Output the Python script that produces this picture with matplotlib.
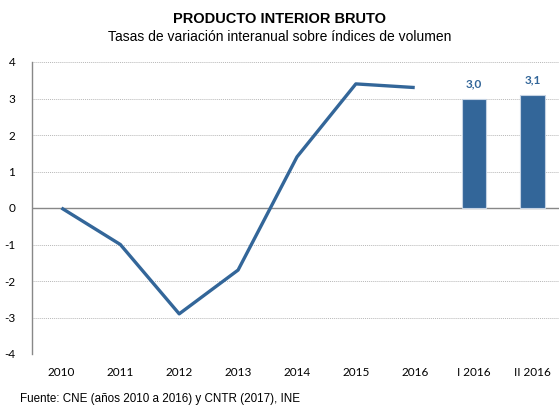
import matplotlib.pyplot as plt

plt.rcParams["axes.unicode_minus"] = False

categories = ["2010", "2011", "2012", "2013", "2014", "2015", "2016", "I 2016", "II 2016"]
annual_values = [0.0, -1.0, -2.9, -1.7, 1.4, 3.4, 3.3]
quarter_values = [3.0, 3.1]
quarter_labels = ["3,0", "3,1"]

blue = "#336699"
tick_font = "Lato"

fig = plt.figure(figsize=(5.59, 4.08), dpi=100)
ax = fig.add_axes([32 / 559, 1 - 354 / 408, 1 - 32 / 559, (354 - 62) / 408])

x_annual = list(range(len(annual_values)))
x_quarter = list(range(len(annual_values), len(categories)))

ax.plot(x_annual, annual_values, color=blue, lw=2.4, solid_capstyle="butt", zorder=3)
bars = ax.bar(x_quarter, quarter_values, width=0.41, color=blue,
              edgecolor="#c5d3e3", linewidth=0.8, zorder=3)
for b, lab in zip(bars, quarter_labels):
    ax.text(b.get_x() + b.get_width() / 2, b.get_height() + 0.25, lab,
            ha="center", va="bottom", color=blue, fontsize=8.5,
            fontweight="bold", family=tick_font)

ax.set_xlim(-0.5, 8.45)
ax.set_ylim(-4, 4)
ax.set_yticks(range(-4, 5))
ax.set_xticks(range(len(categories)))
ax.set_xticklabels(categories)
ax.tick_params(length=0, labelsize=8.5, colors="black")
ax.tick_params(axis="y", pad=12)
ax.tick_params(axis="x", pad=9)
for lbl in ax.get_xticklabels() + ax.get_yticklabels():
    lbl.set_family(tick_font)

ax.grid(axis="y", color="#b8b8b8", linestyle=(0, (1, 1)), lw=0.7)
ax.axhline(0, color="#888888", lw=1.0, zorder=2)
for s in ["top", "right", "bottom"]:
    ax.spines[s].set_visible(False)
ax.spines["left"].set_color("#888888")
ax.spines["left"].set_linewidth(1.0)

fig.text(0.5, 1 - 19 / 408, "PRODUCTO INTERIOR BRUTO", ha="center", va="center",
         fontsize=10.5, fontweight="bold", family="Liberation Sans")
fig.text(0.5, 1 - 37 / 408, "Tasas de variación interanual sobre índices de volumen",
         ha="center", va="center", fontsize=10, family="Liberation Sans")
fig.text(20 / 559, 1 - 399 / 408, "Fuente: CNE (años 2010 a 2016) y CNTR (2017), INE",
         ha="left", va="center", fontsize=8.4, family="Liberation Sans")

fig.savefig("out.png", dpi=100)
